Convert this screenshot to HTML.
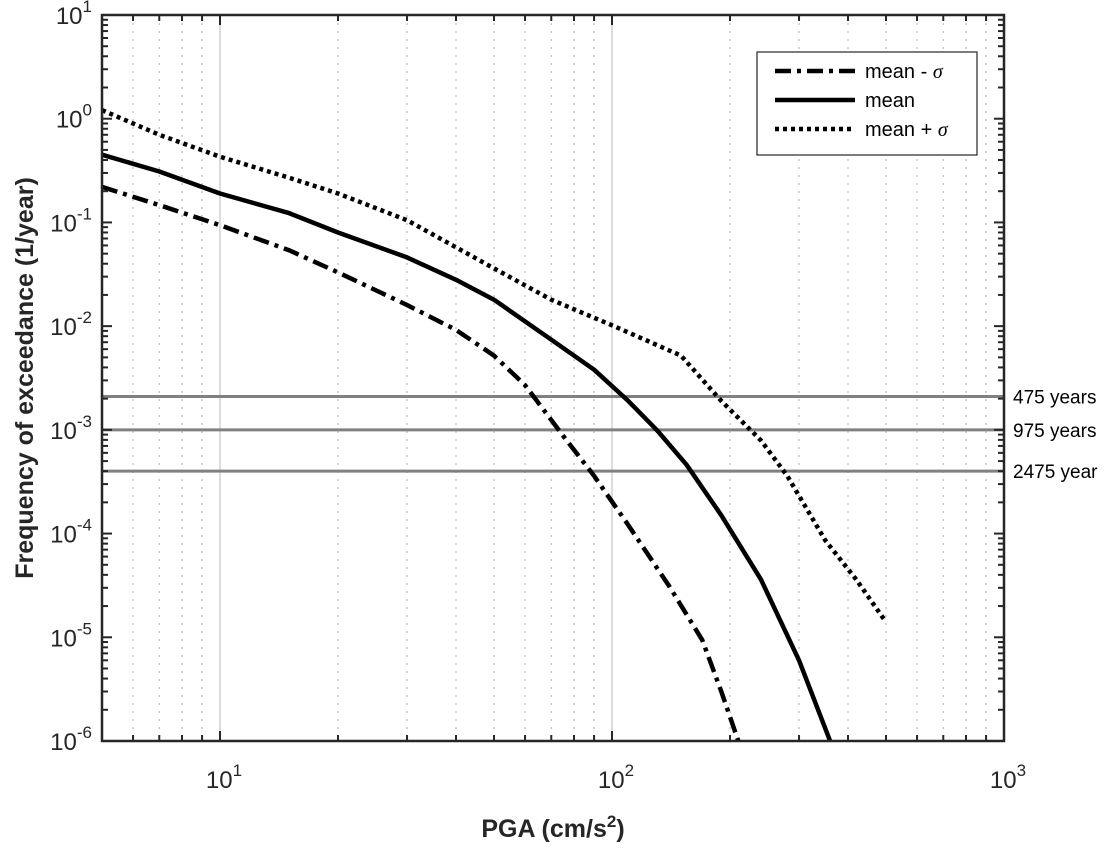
<!DOCTYPE html>
<html><head><meta charset="utf-8"><style>
body{margin:0;background:#fff;}
svg text{font-family:"Liberation Sans",Arial,sans-serif;}
</style></head><body>
<svg id="chart" width="1115" height="844" viewBox="0 0 1115 844">
<g id="grid"></g>
<g id="hlines"></g>
<g id="series"></g>
<rect x="102" y="15" width="902" height="726" fill="none" stroke="#262626" stroke-width="2.5"/>
<g id="ticks"></g>
<text x="0" y="0" transform="translate(33,378) rotate(-90)" text-anchor="middle" font-size="25" font-weight="bold" fill="#262626">Frequency of exceedance (1/year)</text>
<text x="553" y="837" text-anchor="middle" font-size="25" font-weight="bold" fill="#262626">PGA (cm/s<tspan dy="-10" font-size="17">2</tspan><tspan dy="10">)</tspan></text>
<g>
<rect x="757" y="52" width="220" height="103" fill="#fff" stroke="#262626" stroke-width="1.2"/>
<line x1="775" y1="71" x2="855" y2="71" stroke="#000" stroke-width="4.5" stroke-dasharray="16,6,4,6"/>
<text x="865" y="78" font-size="20" fill="#000">mean - <tspan font-style="italic" font-family="Liberation Serif">σ</tspan></text>
<line x1="775" y1="100" x2="855" y2="100" stroke="#000" stroke-width="4.5"/>
<text x="865" y="107" font-size="20" fill="#000">mean</text>
<line x1="775" y1="129" x2="855" y2="129" stroke="#000" stroke-width="4.5" stroke-dasharray="4,4"/>
<text x="865" y="136" font-size="20" fill="#000">mean + <tspan font-style="italic" font-family="Liberation Serif">σ</tspan></text>
</g>
</svg>
<script>
const minusX=[5,7,10,15,20,30,40,50,60,75,90,110,140,170,190,210];
const minusY=[0.22,0.147,0.094,0.054,0.033,0.016,0.0092,0.0052,0.0027,0.00088,0.00036,0.000121,3.1e-5,9.4e-6,3.0e-6,1e-6];
const meanX=[5,7,10,15,20,30,40,50,70,90,110,130,155,190,240,300,360];
const meanY=[0.45,0.31,0.19,0.123,0.08,0.046,0.028,0.018,0.0074,0.0038,0.0019,0.001,0.00046,0.00015,3.6e-5,6e-6,1e-6];
const plusX=[5,7,10,15,20,30,50,70,100,150,190,240,280,350,420,500];
const plusY=[1.21,0.70,0.43,0.27,0.19,0.105,0.036,0.018,0.0102,0.0052,0.0019,0.00079,0.00036,8.6e-5,3.6e-5,1.4e-5];
const returnFreq=[0.0021,0.001,0.0004];
const returnLabels=["475 years","975 years","2475 year"];
const xTickVals=[10,100,1000];
const yTickExps=[1,0,-1,-2,-3,-4,-5,-6];

const NS="http://www.w3.org/2000/svg";
const L=102,R=1004,T=15,B=741;
function sx(v){return 220+392*(Math.log10(v)-1);}
function sy(v){return T+(1-Math.log10(v))*(B-T)/7;}
function mk(tag,attrs,parent){const e=document.createElementNS(NS,tag);for(const k in attrs)e.setAttribute(k,attrs[k]);parent.appendChild(e);return e;}
const grid=document.getElementById('grid'),ticks=document.getElementById('ticks'),series=document.getElementById('series'),hl=document.getElementById('hlines');
for(let d=0;d<3;d++){for(let m=1;m<10;m++){const val=m*Math.pow(10,d);if(val<5||val>1000)continue;const x=sx(val);
 if(x<=L+1||x>=R-1)continue;
 const g=mk('line',{x1:x,x2:x,y1:T,y2:B,stroke:m===1?'#dcdcdc':'#c8c8c8','stroke-width':m===1?2:1.5,'stroke-dasharray':m===1?'none':'2,6'},grid);
 
 const len=m===1?10:6;
 const t1=mk('line',{x1:x,x2:x,y1:B,y2:B-len,stroke:'#262626','stroke-width':2},ticks);
 
 const t2=mk('line',{x1:x,x2:x,y1:T,y2:T+len,stroke:'#262626','stroke-width':2},ticks);
 
}}
xTickVals.forEach(v=>{const x=sx(v);const t=mk('text',{x:x+4,y:788,'text-anchor':'middle','font-size':24,fill:'#262626'},ticks);
 
 t.innerHTML='10<tspan dy="-12" font-size="17">'+Math.round(Math.log10(v))+'</tspan>';});
for(let e=-6;e<1;e++){for(let m=1;m<10;m++){const val=m*Math.pow(10,e);const y=sy(val);const len=m===1?10:6;
 const t=mk('line',{x1:L,x2:L+len,y1:y,y2:y,stroke:'#262626','stroke-width':2},ticks);
 
 const t2=mk('line',{x1:R,x2:R-len,y1:y,y2:y,stroke:'#262626','stroke-width':2},ticks);
 }}
yTickExps.forEach(e=>{const y=sy(Math.pow(10,e));const t=mk('text',{x:92,y:y+9,'text-anchor':'end','font-size':24,fill:'#262626'},ticks);
 
 t.innerHTML='10<tspan dy="-12" font-size="17">'+e+'</tspan>';});
returnFreq.forEach((f,i)=>{const y=sy(f);
 const l=mk('line',{x1:L,x2:R,y1:y,y2:y,stroke:'#808080','stroke-width':3},hl);
 
 const t=mk('text',{x:1013,y:y+7,'font-size':19,fill:'#000'},hl);t.textContent=returnLabels[i];
 });
function path(xs,ys,dash,name){const d=xs.map((x,i)=>(i?'L':'M')+sx(x).toFixed(1)+','+sy(ys[i]).toFixed(1)).join('');
 const p=mk('path',{d:d,fill:'none',stroke:'#000','stroke-width':4.5,'stroke-dasharray':dash,'stroke-linejoin':'round'},series);
 }
path(minusX,minusY,'16,6,4,6','mean-minus-sigma-line');
path(meanX,meanY,'none','mean-line');
path(plusX,plusY,'4,4','mean-plus-sigma-line');
</script>
</body></html>
